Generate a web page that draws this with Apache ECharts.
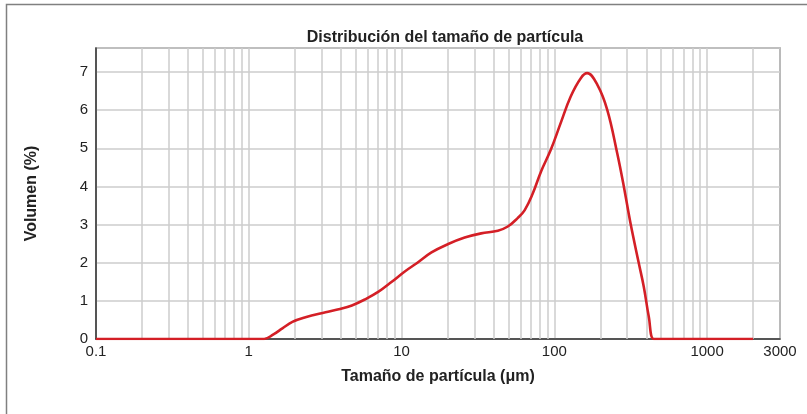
<!DOCTYPE html>
<html>
<head>
<meta charset="utf-8">
<script src="https://cdn.jsdelivr.net/npm/echarts@6/dist/echarts.min.js"></script>
<style>html,body{margin:0;padding:0;background:#fff;}#c{width:807px;height:414px;}</style>
</head>
<body>
<div id="c"></div>
<script>
const sizes = [0.1, 1.26, 1.45, 1.66, 1.93, 2.35, 3.18, 3.88, 4.73, 5.78, 7.07, 8.63, 10.5, 12.5, 15.7, 20.2, 25.9, 33.2, 42.7, 49.6, 57.5, 64, 72, 82, 94.8, 110, 128, 149, 164, 191, 222, 258, 285, 315, 357, 385, 415, 447, 500, 2000];
const volumes = [0, 0, 0.12, 0.28, 0.45, 0.57, 0.70, 0.78, 0.88, 1.04, 1.24, 1.50, 1.77, 1.98, 2.27, 2.49, 2.66, 2.77, 2.84, 2.95, 3.17, 3.38, 3.80, 4.40, 4.96, 5.66, 6.36, 6.84, 6.97, 6.67, 6.01, 4.87, 4.00, 3.04, 1.99, 1.37, 0.59, 0, 0, 0];
const minorGrid = [0.2,0.3,0.4,0.5,0.6,0.7,0.8,0.9, 2,3,4,5,6,7,8,9, 20,30,40,50,60,70,80,90, 200,300,400,500,600,700,800,900, 2000];
const yTicks = [0,1,2,3,4,5,6,7];

const chart = echarts.init(document.getElementById('c'), null, {renderer: 'canvas'});
const font = 'Liberation Sans, Arial, sans-serif';
chart.setOption({
  animation: false,
  backgroundColor: '#fff',
  graphic: [{
    type: 'rect', left: 4, top: 2, silent: true,
    shape: {width: 900, height: 600},
    style: {fill: 'none', stroke: '#808080', lineWidth: 1.5}
  }],
  title: {
    text: 'Distribución del tamaño de partícula',
    left: 440, textAlign: 'center', top: 25,
    textStyle: {fontFamily: font, fontSize: 16, fontWeight: 'bold', color: '#222'}
  },
  grid: {left: 96, right: 27, top: 48, bottom: 75, show: true, borderColor: '#333', borderWidth: 1.2},
  xAxis: {
    type: 'log', logBase: 10, min: 0.1, max: 3000,
    name: 'Tamaño de partícula (μm)', nameLocation: 'middle', nameGap: 30,
    nameTextStyle: {fontFamily: font, fontSize: 16, fontWeight: 'bold', color: '#222'},
    axisLine: {show: true, lineStyle: {color: '#333', width: 1.5}},
    axisTick: {show: false},
    axisLabel: {fontFamily: font, fontSize: 15, color: '#222', margin: 5,
      formatter: v => String(+(+v).toPrecision(6))},
    splitLine: {show: true, lineStyle: {color: '#cccccc', width: 1.5}}
  },
  yAxis: {
    type: 'value', min: 0, max: 7.63, interval: 1,
    name: 'Volumen (%)', nameLocation: 'middle', nameGap: 56, nameRotate: 90,
    nameTextStyle: {fontFamily: font, fontSize: 16, fontWeight: 'bold', color: '#222'},
    axisLine: {show: true, lineStyle: {color: '#333', width: 1.5}},
    axisTick: {show: false},
    axisLabel: {fontFamily: font, fontSize: 15, color: '#222', margin: 8, showMaxLabel: false,
      formatter: v => yTicks.indexOf(v) >= 0 ? String(v) : ''},
    splitLine: {show: true, lineStyle: {color: '#cccccc', width: 1.5}}
  },
  series: [{
    type: 'line',
    data: sizes.map((s, i) => [s, volumes[i]]),
    showSymbol: false,
    smooth: 0.4,
    lineStyle: {color: '#d41f26', width: 2.6},
    z: 5,
    markLine: {
      silent: true, symbol: 'none', label: {show: false},
      lineStyle: {color: '#cccccc', width: 1.5, type: 'solid'},
      data: minorGrid.map(v => ({xAxis: v})),
      z: 1
    }
  }]
});
</script>
</body>
</html>
